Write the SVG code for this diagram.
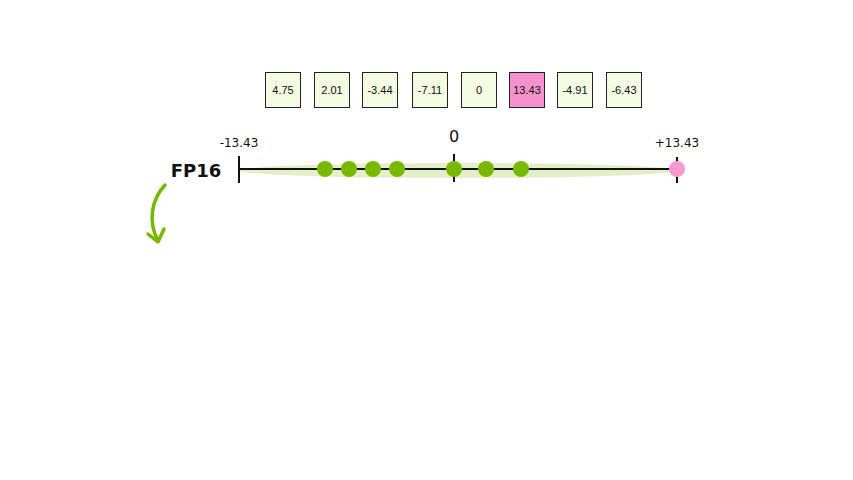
<svg xmlns="http://www.w3.org/2000/svg" width="853" height="480" viewBox="0 0 853 480">
<style>
.box{fill:#f3fbe2;stroke:#222;stroke-width:1}
.pink{fill:#f591cc;stroke:#222;stroke-width:1}
.bt{font-family:"Liberation Sans",Arial,sans-serif;font-size:11px;fill:#111;text-anchor:middle}
.lab{font-family:"DejaVu Sans",sans-serif;font-size:12px;fill:#111;text-anchor:middle}
.dot{fill:#76b900}
.tick{stroke:#111;stroke-width:2}
</style>
<defs>
<marker id="ah" viewBox="0 0 12 12" refX="6" refY="9" markerWidth="12" markerHeight="12" markerUnits="userSpaceOnUse" orient="auto">
</marker>
</defs>
<rect width="853" height="480" fill="#fff"/>
<g id="values">
<g id="v1"><rect class="box" x="265.5" y="72.5" width="35" height="35"/><text class="bt" x="283" y="94">4.75</text></g>
<g id="v2"><rect class="box" x="314.5" y="72.5" width="35" height="35"/><text class="bt" x="332" y="94">2.01</text></g>
<g id="v3"><rect class="box" x="362.5" y="72.5" width="35" height="35"/><text class="bt" x="380" y="94">-3.44</text></g>
<g id="v4"><rect class="box" x="412.5" y="72.5" width="35" height="35"/><text class="bt" x="430" y="94">-7.11</text></g>
<g id="v5"><rect class="box" x="461.5" y="72.5" width="35" height="35"/><text class="bt" x="479" y="94">0</text></g>
<g id="v6"><rect class="pink" x="509.5" y="72.5" width="35" height="35"/><text class="bt" x="527" y="94">13.43</text></g>
<g id="v7"><rect class="box" x="557.5" y="72.5" width="35" height="35"/><text class="bt" x="575" y="94">-4.91</text></g>
<g id="v8"><rect class="box" x="606.5" y="72.5" width="35" height="35"/><text class="bt" x="624" y="94">-6.43</text></g>
</g>
<g id="axis">
<ellipse cx="458" cy="170.5" rx="219" ry="7.5" fill="#e4efc8"/>
<line x1="239" y1="169" x2="677" y2="169" stroke="#111" stroke-width="2"/>
<line class="tick" x1="239" y1="156" x2="239" y2="183"/>
<line class="tick" x1="454" y1="154" x2="454" y2="182"/>
<line class="tick" x1="677" y1="157" x2="677" y2="183"/>
<text class="lab" x="239" y="147">-13.43</text>
<text class="lab" x="454" y="142" style="font-size:16px">0</text>
<text class="lab" x="677" y="147">+13.43</text>
<text x="196" y="177" style="font-family:'DejaVu Sans',sans-serif;font-weight:bold;font-size:18px;fill:#111;text-anchor:middle">FP16</text>
</g>
<g id="points">
<circle class="dot" cx="325" cy="169" r="8"/>
<circle class="dot" cx="349" cy="169" r="8"/>
<circle class="dot" cx="373" cy="169" r="8"/>
<circle class="dot" cx="397" cy="169" r="8"/>
<circle class="dot" cx="454" cy="169" r="8"/>
<circle class="dot" cx="486" cy="169" r="8"/>
<circle class="dot" cx="521" cy="169" r="8"/>
<circle cx="677" cy="169" r="8" fill="#f59acd"/>
</g>
<g id="connectors" fill="none" stroke="#76b900" stroke-width="3.5" stroke-linecap="round" stroke-linejoin="round">
<path d="M165 185 C 151 200, 148 222, 158 241"/>
<path d="M148 234 L158 242 L164 229"/>
</g>
</svg>
